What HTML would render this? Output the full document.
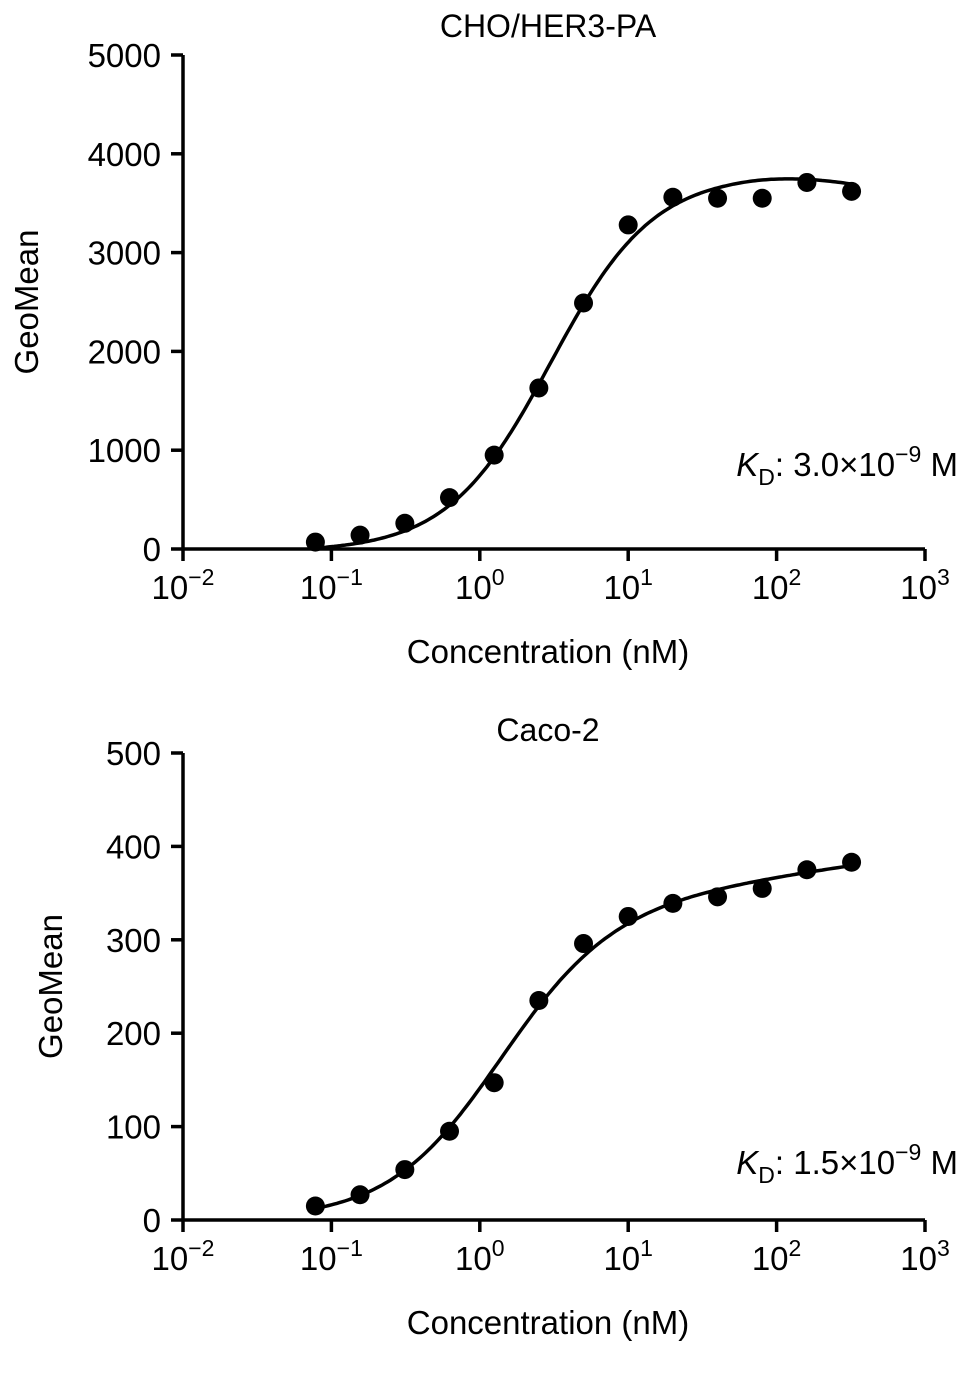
<!DOCTYPE html>
<html><head><meta charset="utf-8"><style>
html,body{margin:0;padding:0;background:#fff;}
svg text{font-family:"Liberation Sans",Arial,sans-serif;fill:#000;}
</style></head><body>
<svg id="svg" width="969" height="1384" viewBox="0 0 969 1384" xmlns="http://www.w3.org/2000/svg"></svg>
<script>
const concentrations=[0.078,0.156,0.3125,0.625,1.25,2.5,5,10,20,40,80,160,320];
const topValues=[70,140,260,520,950,1630,2490,3280,3560,3550,3550,3710,3620];
const bottomValues=[15,27,54,95,147,235,296,325,339,346,355,375,383];
const topYTicks=[0,1000,2000,3000,4000,5000];
const bottomYTicks=[0,100,200,300,400,500];
const xTickExps=[-2,-1,0,1,2,3];
const titles=["CHO/HER3-PA","Caco-2"];
const kdLabels=["3.0","1.5"];
const kdExps=["−9","−9"];

const NS="http://www.w3.org/2000/svg";
const svg=document.getElementById('svg');
function mk(tag,attrs,parent,name){const e=document.createElementNS(NS,tag);for(const k in attrs)e.setAttribute(k,attrs[k]);


(parent||svg).appendChild(e);return e;}

function drawChart(cfg){
  const g=mk('g',{},svg,cfg.name);
  const x0=183,x1=925,yb=cfg.yb,yt=cfg.yt,ymax=cfg.ymax;
  const xs=v=>x0+(Math.log10(v)+2)/5*(x1-x0);
  const ys=v=>yb-v/ymax*(yb-yt);
  mk('line',{x1:x0,y1:yt,x2:x0,y2:yb,stroke:'#000','stroke-width':3.5},g,'y-axis');
  mk('line',{x1:x0,y1:yb,x2:x1,y2:yb,stroke:'#000','stroke-width':3.5},g,'x-axis');
  cfg.yticks.forEach(t=>{
    mk('line',{x1:x0-12,y1:ys(t),x2:x0,y2:ys(t),stroke:'#000','stroke-width':3.5},g,'y-tick');
    const tx=mk('text',{x:x0-22,y:ys(t)+12,'text-anchor':'end','font-size':33},g,'y-tick-label');tx.textContent=t;
  });
  xTickExps.forEach(e=>{
    const px=x0+(e+2)/5*(x1-x0);
    mk('line',{x1:px,y1:yb,x2:px,y2:yb+12,stroke:'#000','stroke-width':3.5},g,'x-tick');
    const tx=mk('text',{x:px,y:yb+50,'text-anchor':'middle','font-size':33},g,'x-tick-label');
    const s=e<0?'−'+(-e):String(e);
    tx.innerHTML='10<tspan dy="-14" font-size="23">'+s+'</tspan>';
  });
  const tl=mk('text',{x:548,y:cfg.titleY,'text-anchor':'middle','font-size':32},g,'chart-title');tl.textContent=cfg.title;
  const xl=mk('text',{x:548,y:yb+114,'text-anchor':'middle','font-size':33},g,'x-axis-title');xl.textContent='Concentration (nM)';
  const yl=mk('text',{x:0,y:0,'text-anchor':'middle','font-size':33,transform:`translate(${cfg.ylx},${(yt+yb)/2}) rotate(-90)`},g,'y-axis-title');yl.textContent='GeoMean';
  const kd=mk('text',{x:958,y:cfg.kdY,'text-anchor':'end','font-size':33},g,'kd-annotation');
  kd.innerHTML='<tspan font-style="italic">K</tspan><tspan dy="9" font-size="23">D</tspan><tspan dy="-9">: '+cfg.kd+'×10</tspan><tspan dy="-14" font-size="23">'+cfg.kdExp+'</tspan><tspan dy="14"> M</tspan>';
  let d='';
  for(let i=0;i<=200;i++){const lx=Math.log10(0.078)+i/200*(Math.log10(320)-Math.log10(0.078));const v=10**lx;
    d+=(i?'L':'M')+xs(v).toFixed(1)+','+ys(cfg.fit(v)).toFixed(1);}
  mk('path',{d:d,fill:'none',stroke:'#000','stroke-width':3.5},g,'fit-curve');
  cfg.values.forEach((v,i)=>{mk('circle',{cx:xs(concentrations[i]),cy:ys(v),r:9.5,fill:'#000'},g,'data-point');});
}
drawChart({name:'chart-cho-her3',yb:549,yt:55,ymax:5000,yticks:topYTicks,values:topValues,title:titles[0],titleY:37,ylx:38,kd:kdLabels[0],kdExp:kdExps[0],kdY:476,
  fit:x=>{const h=x**1.25/(3**1.25+x**1.25);return 3830*h-30-180*Math.max(0,Math.log10(x/60))**2;}});
drawChart({name:'chart-caco2',yb:1220,yt:753,ymax:500,yticks:bottomYTicks,values:bottomValues,title:titles[1],titleY:741,ylx:62,kd:kdLabels[1],kdExp:kdExps[1],kdY:1174,
  fit:x=>{const h=x**1.15/(1.3**1.15+x**1.15);return 325*h+22*h*Math.log10(1+x);}});
</script>
</body></html>
